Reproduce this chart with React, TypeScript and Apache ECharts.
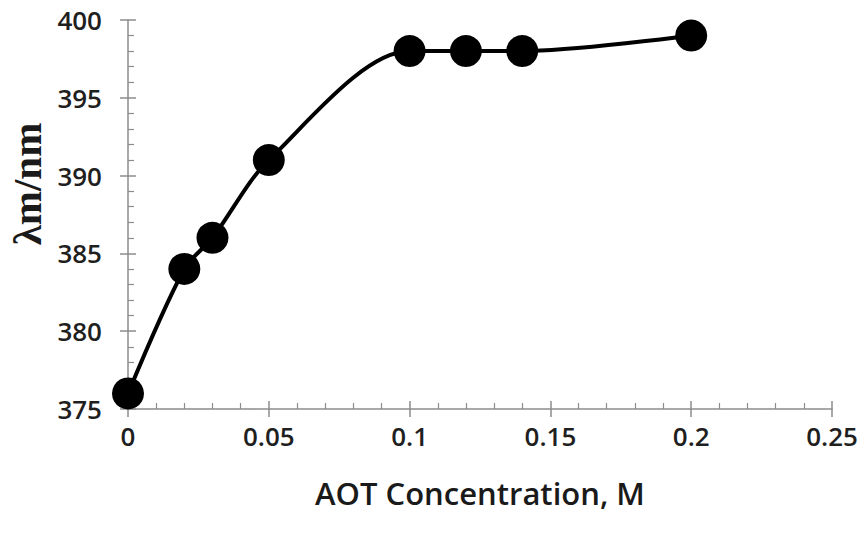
import React, { useEffect, useRef } from "react";
import * as echarts from "echarts";

const concentrations = [0, 0.02, 0.03, 0.05, 0.1, 0.12, 0.14, 0.2];
const wavelengths = [376, 384, 386, 391, 398, 398, 398, 399];
const xTitle = "AOT Concentration, M";
const yTitle = "λm/nm";

export default function App() {
  const ref = useRef<HTMLDivElement>(null);
  useEffect(() => {
    const chart = echarts.init(ref.current!, null, { renderer: "svg" });
    const axisColor = "#8c8c8c";
    const labelStyle = {
      fontFamily: "Open Sans",
      fontWeight: 600,
      fontSize: 26,
      color: "#1f1f1f",
    };
    const grid = { left: 128, right: 33, top: 20, bottom: 131 };
    chart.setOption({
      animation: false,
      backgroundColor: "#fff",
      grid: [grid],
      xAxis: [
        {
          type: "value",
          min: 0,
          max: 0.25,
          interval: 0.05,
          axisLine: { show: true, lineStyle: { color: axisColor, width: 1.5 } },
          axisTick: { show: true, length: 8, lineStyle: { color: axisColor, width: 1.5 } },
          axisLabel: { ...labelStyle, margin: 14 },
          splitLine: { show: false },
          name: xTitle,
          nameLocation: "middle",
          nameGap: 68,
          nameTextStyle: { fontFamily: "Open Sans", fontWeight: 600, fontSize: 31, color: "#1a1a1a" },
        },
        {
          type: "value",
          min: 0,
          max: 0.25,
          interval: 0.05,
          position: "bottom",
          axisLine: { show: false },
          axisTick: { show: true, inside: true, length: 8, lineStyle: { color: axisColor, width: 1.5 } },
          minorTick: { show: true, splitNumber: 5, length: 6, lineStyle: { color: axisColor, width: 1.2 } },
          axisLabel: { show: false },
          splitLine: { show: false },
        },
      ],
      yAxis: [
        {
          type: "value",
          min: 375,
          max: 400,
          interval: 5,
          axisLine: { show: true, lineStyle: { color: axisColor, width: 1.5 } },
          axisTick: { show: true, length: 8, lineStyle: { color: axisColor, width: 1.5 } },
          axisLabel: { ...labelStyle, margin: 26 },
          splitLine: { show: false },
        },
        {
          type: "value",
          min: 375,
          max: 400,
          interval: 5,
          position: "left",
          axisLine: { show: false },
          axisTick: { show: true, inside: true, length: 8, lineStyle: { color: axisColor, width: 1.5 } },
          minorTick: { show: true, splitNumber: 5, length: 6, lineStyle: { color: axisColor, width: 1.2 } },
          axisLabel: { show: false },
          splitLine: { show: false },
        },
      ],
      graphic: [
        {
          type: "text",
          x: 27,
          y: 184,
          rotation: Math.PI / 2,
          style: {
            text: yTitle,
            fontFamily: "Liberation Serif",
            fontWeight: "bold",
            fontSize: 41,
            fill: "#1a1a1a",
            align: "center",
            verticalAlign: "middle",
          },
        },
      ],
      series: [
        {
          type: "line",
          xAxisIndex: 0,
          yAxisIndex: 0,
          data: concentrations.map((c, i) => [c, wavelengths[i]]),
          smooth: 0.3,
          symbol: "circle",
          symbolSize: 32,
          itemStyle: { color: "#000" },
          lineStyle: { color: "#000", width: 4 },
          z: 5,
        },
      ],
    });
    return () => chart.dispose();
  }, []);
  return <div ref={ref} style={{ width: 865, height: 540, position: "absolute", left: 0, top: 0 }} />;
}
